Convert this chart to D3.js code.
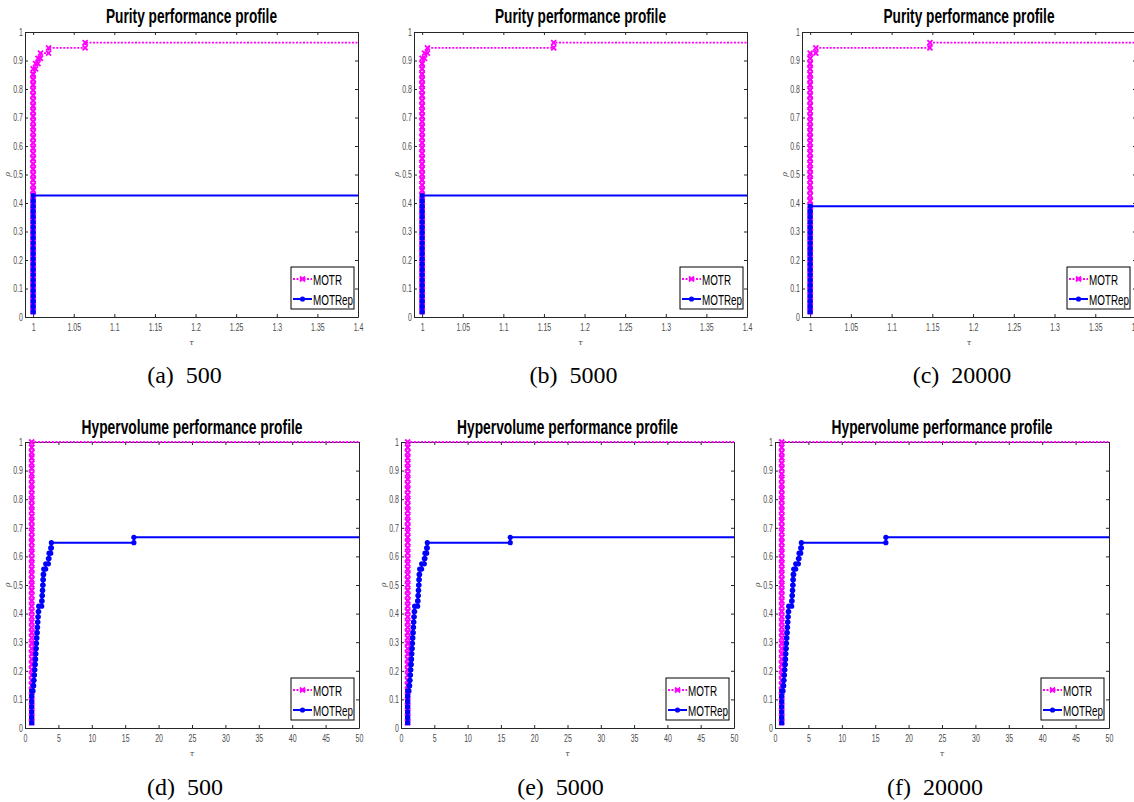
<!DOCTYPE html>
<html>
<head>
<meta charset="utf-8">
<script src="https://cdn.jsdelivr.net/npm/d3@7"></script>
<style>
	body { margin: 0; background: #fff; }
	svg { display: block; }
</style>
</head>
<body>
<script>
// number of test problems behind every profile
const nProblems = 54;

const solverNames = ["MOTR", "MOTRep"];
const rhoTicks = [0, 0.1, 0.2, 0.3, 0.4, 0.5, 0.6, 0.7, 0.8, 0.9, 1];
const purityTauTicks = [1, 1.05, 1.1, 1.15, 1.2, 1.25, 1.3, 1.35, 1.4];
const hyperTauTicks = [0, 5, 10, 15, 20, 25, 30, 35, 40, 45, 50];
const panelTitles = ["Purity performance profile", "Hypervolume performance profile"];
const panelCaptions = ["(a)  500", "(b)  5000", "(c)  20000", "(d)  500", "(e)  5000", "(f)  20000"];

// performance ratios tau and how many problems reach each of them
const purity500MotrTau = [1, 1.003, 1.006, 1.009, 1.019, 1.064];
const purity500MotrCount = [47, 1, 1, 1, 1, 1];
const purity500MotrepTau = [1];
const purity500MotrepCount = [23];

const purity5000MotrTau = [1, 1.003, 1.0065, 1.162];
const purity5000MotrCount = [49, 1, 1, 1];
const purity5000MotrepTau = [1];
const purity5000MotrepCount = [23];

const purity20000MotrTau = [1, 1.007, 1.147];
const purity20000MotrCount = [50, 1, 1];
const purity20000MotrepTau = [1];
const purity20000MotrepCount = [21];

const hyperMotrTau = [1];
const hyperMotrCount = [54];

const hyper500MotrepTau = [1, 1.2, 1.3, 1.35, 1.42, 1.48, 1.53, 1.58, 1.63, 1.68, 1.72, 1.78, 1.83, 1.88, 1.93, 1.98, 2.05,
	2.5, 2.55, 2.6, 2.65, 2.7, 2.72, 2.8, 3.1, 3.5, 3.6, 3.85, 3.95, 16.3];
const hyper5000MotrepTau = [1, 1.2, 1.3, 1.35, 1.42, 1.48, 1.53, 1.58, 1.63, 1.68, 1.72, 1.78, 1.83, 1.88, 1.93, 1.98, 2.05,
	2.5, 2.55, 2.6, 2.65, 2.7, 2.72, 2.8, 3.1, 3.5, 3.6, 3.85, 3.95, 16.4];
const hyper20000MotrepTau = [1, 1.2, 1.3, 1.35, 1.42, 1.48, 1.53, 1.58, 1.63, 1.68, 1.72, 1.78, 1.83, 1.88, 1.93, 1.98, 2.05,
	2.5, 2.55, 2.6, 2.65, 2.7, 2.72, 2.8, 3.1, 3.5, 3.6, 3.85, 3.95, 16.6];
const hyperMotrepCount = [7, 1, 1, 1, 1, 1, 1, 1, 1, 1, 1, 1, 1, 1, 1, 1, 1,
	1, 1, 1, 1, 1, 1, 1, 1, 1, 1, 1, 1, 1];


const colors = { MOTR: "#ff00ff", MOTRep: "#0000ff" };
const axisColor = "#262626";
const labelColor = "#4d4d4d";
const sans = "'Liberation Sans', Arial, Helvetica, sans-serif";

document.addEventListener("DOMContentLoaded", function(event) {
	const svg = d3.select("body")
		.append("svg")
		.attr("width", 1134)
		.attr("height", 802);

	const topRow = { top: 32, bottom: 317, titleY: 23, captionY: 383 };
	const bottomRow = { top: 442, bottom: 728, titleY: 434, captionY: 795 };

	const panels = [
		{ row: topRow, left: 25, width: 333, legendInset: 4, xDomain: [0.99, 1.4], xTicks: purityTauTicks, title: panelTitles[0], titleLen: 171,
		  caption: panelCaptions[0],
		  series: [[purity500MotrTau, purity500MotrCount], [purity500MotrepTau, purity500MotrepCount]] },
		{ row: topRow, left: 414, width: 333, legendInset: 4, xDomain: [0.99, 1.4], xTicks: purityTauTicks, title: panelTitles[0], titleLen: 171,
		  caption: panelCaptions[1],
		  series: [[purity5000MotrTau, purity5000MotrCount], [purity5000MotrepTau, purity5000MotrepCount]] },
		{ row: topRow, left: 802, width: 334, legendInset: 6, xDomain: [0.99, 1.4], xTicks: purityTauTicks, title: panelTitles[0], titleLen: 171,
		  caption: panelCaptions[2],
		  series: [[purity20000MotrTau, purity20000MotrCount], [purity20000MotrepTau, purity20000MotrepCount]] },
		{ row: bottomRow, left: 25, width: 334, legendInset: 5, xDomain: [0, 50], xTicks: hyperTauTicks, title: panelTitles[1], titleLen: 221,
		  caption: panelCaptions[3],
		  series: [[hyperMotrTau, hyperMotrCount], [hyper500MotrepTau, hyperMotrepCount]] },
		{ row: bottomRow, left: 401, width: 333, legendInset: 5, xDomain: [0, 50], xTicks: hyperTauTicks, title: panelTitles[1], titleLen: 221,
		  caption: panelCaptions[4],
		  series: [[hyperMotrTau, hyperMotrCount], [hyper5000MotrepTau, hyperMotrepCount]] },
		{ row: bottomRow, left: 775, width: 334, legendInset: 5, xDomain: [0, 50], xTicks: hyperTauTicks, title: panelTitles[1], titleLen: 221,
		  caption: panelCaptions[5],
		  series: [[hyperMotrTau, hyperMotrCount], [hyper20000MotrepTau, hyperMotrepCount]] }
	];

	panels.forEach(function(p) { drawPanel(svg, p); });
});


/**
 * turn sorted ratios and their counts into the vertices of a stairs plot
 */
function stairsVertices(tau, count, xMax) {
	const pts = [];
	let k = 0;
	let prevRho = 0;
	tau.forEach(function(t, i) {
		for (let c = 0; c < count[i]; c++) {
			k++;
			const rho = k / nProblems;
			if (pts.length > 0) pts.push([t, prevRho]);
			pts.push([t, rho]);
			prevRho = rho;
		}
	});
	pts.push([xMax, prevRho]);
	return pts;
}

function drawMarker(g, name, cx, cy) {
	if (name === "MOTR") {
		const s = 2.5;
		g.append("path")
			.attr("d", `M${cx - s},${cy - s}L${cx + s},${cy + s}M${cx - s},${cy + s}L${cx + s},${cy - s}`)
			.attr("stroke", colors.MOTR)
			.attr("stroke-width", 1.8)
			.attr("fill", "none");
	} else {
		g.append("circle")
			.attr("cx", cx)
			.attr("cy", cy)
			.attr("r", 2.6)
			.attr("fill", colors.MOTRep);
	}
}

function styleAxis(sel) {
	sel.select(".domain").attr("stroke", axisColor).attr("stroke-width", 1);
	sel.selectAll(".tick line").attr("stroke", axisColor).attr("stroke-width", 1);
	sel.selectAll(".tick text")
		.attr("fill", labelColor)
		.attr("font-family", sans)
		.attr("font-size", 10)
		.attr("transform", "scale(0.7,1)");
}

function drawPanel(svg, p) {
	const top = p.row.top;
	const bottom = p.row.bottom;
	const right = p.left + p.width;
	const cx = p.left + p.width / 2;

	const x = d3.scaleLinear().domain(p.xDomain).range([p.left, right]);
	const y = d3.scaleLinear().domain([0, 1]).range([bottom, top]);
	const fmt = d3.format("~g");

	//axes box with inward ticks
	svg.append("g")
		.attr("transform", `translate(0,${bottom})`)
		.call(d3.axisBottom(x).tickValues(p.xTicks).tickSize(-3).tickSizeOuter(0).tickPadding(7).tickFormat(fmt))
		.call(styleAxis);
	svg.append("g")
		.attr("transform", `translate(0,${top})`)
		.call(d3.axisTop(x).tickValues(p.xTicks).tickSize(-3).tickSizeOuter(0).tickFormat(""))
		.call(styleAxis);
	svg.append("g")
		.attr("transform", `translate(${p.left},0)`)
		.call(d3.axisLeft(y).tickValues(rhoTicks).tickSize(-3).tickSizeOuter(0).tickPadding(3).tickFormat(fmt))
		.call(styleAxis);
	svg.append("g")
		.attr("transform", `translate(${right},0)`)
		.call(d3.axisRight(y).tickValues(rhoTicks).tickSize(-3).tickSizeOuter(0).tickFormat(""))
		.call(styleAxis);

	//title
	svg.append("text")
		.attr("x", cx)
		.attr("y", p.row.titleY)
		.attr("text-anchor", "middle")
		.attr("font-family", sans)
		.attr("font-weight", "bold")
		.attr("font-size", 20)
		.attr("textLength", p.titleLen)
		.attr("lengthAdjust", "spacingAndGlyphs")
		.text(p.title);

	//axis labels
	svg.append("text")
		.attr("x", cx)
		.attr("y", bottom + 28)
		.attr("text-anchor", "middle")
		.attr("font-family", "'DejaVu Serif', serif")
		.attr("font-style", "italic")
		.attr("font-size", 8)
		.attr("fill", labelColor)
		.text("τ");
	svg.append("text")
		.attr("transform", `translate(${p.left - 15},${(top + bottom) / 2}) rotate(-90)`)
		.attr("text-anchor", "middle")
		.attr("font-family", "'DejaVu Serif', serif")
		.attr("font-style", "italic")
		.attr("font-size", 8)
		.attr("fill", labelColor)
		.text("ρ");

	//profiles
	const line = d3.line().x(function(d) { return x(d[0]); }).y(function(d) { return y(d[1]); });
	p.series.forEach(function(s, i) {
		const name = solverNames[i];
		const pts = stairsVertices(s[0], s[1], p.xDomain[1]);
		const g = svg.append("g");
		g.append("path")
			.attr("d", line(pts))
			.attr("fill", "none")
			.attr("stroke", colors[name])
			.attr("stroke-width", name === "MOTR" ? 1.8 : 2)
			.attr("stroke-dasharray", name === "MOTR" ? "2,1.5" : null);
		pts.slice(0, -1).forEach(function(d) {
			drawMarker(g, name, x(d[0]), y(d[1]));
		});
	});

	//legend
	const lw = 63, lh = 42;
	const lx = right - p.legendInset - lw;
	const ly = bottom - 8 - lh;
	const leg = svg.append("g");
	leg.append("rect")
		.attr("x", lx).attr("y", ly)
		.attr("width", lw).attr("height", lh)
		.attr("fill", "#fff")
		.attr("stroke", "#000")
		.attr("stroke-width", 1);
	const textLens = [29, 40];
	solverNames.forEach(function(name, i) {
		const ry = ly + 12 + i * 20;
		leg.append("line")
			.attr("x1", lx + 2).attr("x2", lx + 21)
			.attr("y1", ry).attr("y2", ry)
			.attr("stroke", colors[name])
			.attr("stroke-width", name === "MOTR" ? 1.8 : 2)
			.attr("stroke-dasharray", name === "MOTR" ? "2,1.5" : null);
		drawMarker(leg, name, lx + 11.5, ry);
		leg.append("text")
			.attr("x", lx + 22)
			.attr("y", ry + 5.5)
			.attr("font-family", sans)
			.attr("font-size", 15)
			.attr("textLength", textLens[i])
			.attr("lengthAdjust", "spacingAndGlyphs")
			.text(name);
	});

	//caption under the panel
	svg.append("text")
		.attr("x", cx - 7)
		.attr("y", p.row.captionY)
		.attr("text-anchor", "middle")
		.attr("font-family", "'Liberation Serif', 'Times New Roman', serif")
		.attr("font-size", 24)
		.style("white-space", "pre")
		.text(p.caption);
}
</script>
</body>
</html>
